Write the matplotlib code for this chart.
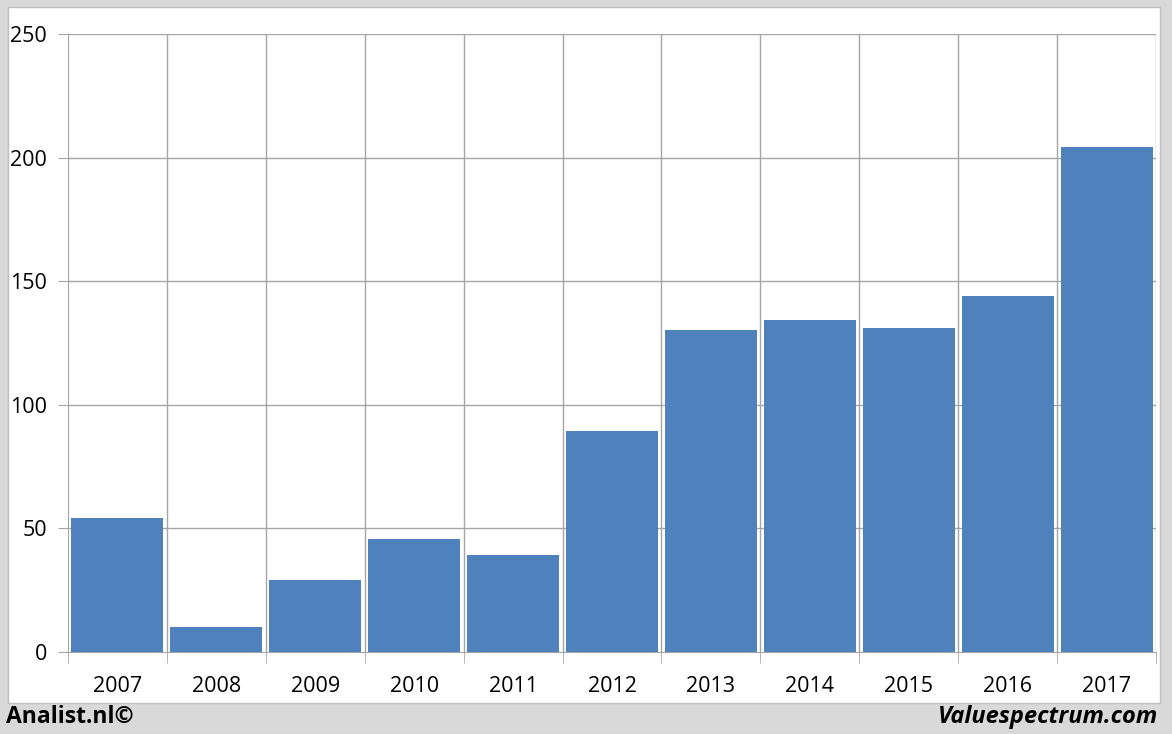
import matplotlib
matplotlib.use("Agg")
import matplotlib.pyplot as plt
from matplotlib.patches import Rectangle

years = ["2007", "2008", "2009", "2010", "2011", "2012", "2013", "2014", "2015", "2016", "2017"]
values = [54.2, 10.1, 29.1, 45.7, 39.2, 89.4, 130.3, 134.3, 131.1, 144.0, 204.3]
yticks = [0, 50, 100, 150, 200, 250]

W, H = 1172, 734
fig = plt.figure(figsize=(W / 100, H / 100), dpi=100)
fig.patch.set_facecolor("#d9d9d9")
# white panel
fig.patches.append(Rectangle((8 / W, 1 - 703 / H), (1160 - 8) / W, (703 - 7) / H,
                             transform=fig.transFigure, facecolor="white",
                             edgecolor="#bfbfbf", linewidth=1, zorder=-10))

x0, x1, ytop, ybot = 68, 1156, 34, 652
ax = fig.add_axes([x0 / W, 1 - ybot / H, (x1 - x0) / W, (ybot - ytop) / H])
ax.set_zorder(5)
ax.set_facecolor("white")
n = len(years)
ax.bar(range(n), values, width=0.93, color="#4f81bd", zorder=3)
ax.set_xlim(-0.5, n - 0.5)
ax.set_ylim(0, 250)
ax.set_yticks(yticks)
ax.set_yticklabels([str(v) for v in yticks])
ax.set_xticks(range(n))
ax.set_xticklabels(years)
ax.set_xticks([i - 0.5 for i in range(n + 1)], minor=True)

for v in yticks[1:]:
    ax.axhline(v, color="#a6a6a6", linewidth=1, zorder=1)
for i in range(1, n + 1):
    ax.axvline(i - 0.5, color="#a6a6a6", linewidth=1, zorder=1)

for s in ["top", "right"]:
    ax.spines[s].set_visible(False)
ax.spines["left"].set_color("#a6a6a6")
ax.spines["bottom"].set_color("#a6a6a6")
ax.tick_params(axis="x", which="major", length=0, pad=17, labelsize=15.5)
ax.tick_params(axis="x", which="minor", length=8, color="#a6a6a6")
ax.tick_params(axis="y", length=7, color="#a6a6a6", labelsize=15.5, pad=8)
for lab in ax.get_xticklabels() + ax.get_yticklabels():
    lab.set_fontfamily(["Open Sans", "DejaVu Sans"])

fig.text(6 / W, 1 - 717 / H, "Analist.nl©", fontsize=16.5, fontweight="bold",
         family=["Open Sans", "DejaVu Sans"], ha="left", va="center")
fig.text(1158 / W, 1 - 717 / H, "Valuespectrum.com", fontsize=17, fontweight="bold",
         style="italic", family=["Open Sans", "DejaVu Sans"], ha="right", va="center")

fig.savefig("out.png", dpi=100, facecolor=fig.get_facecolor())
